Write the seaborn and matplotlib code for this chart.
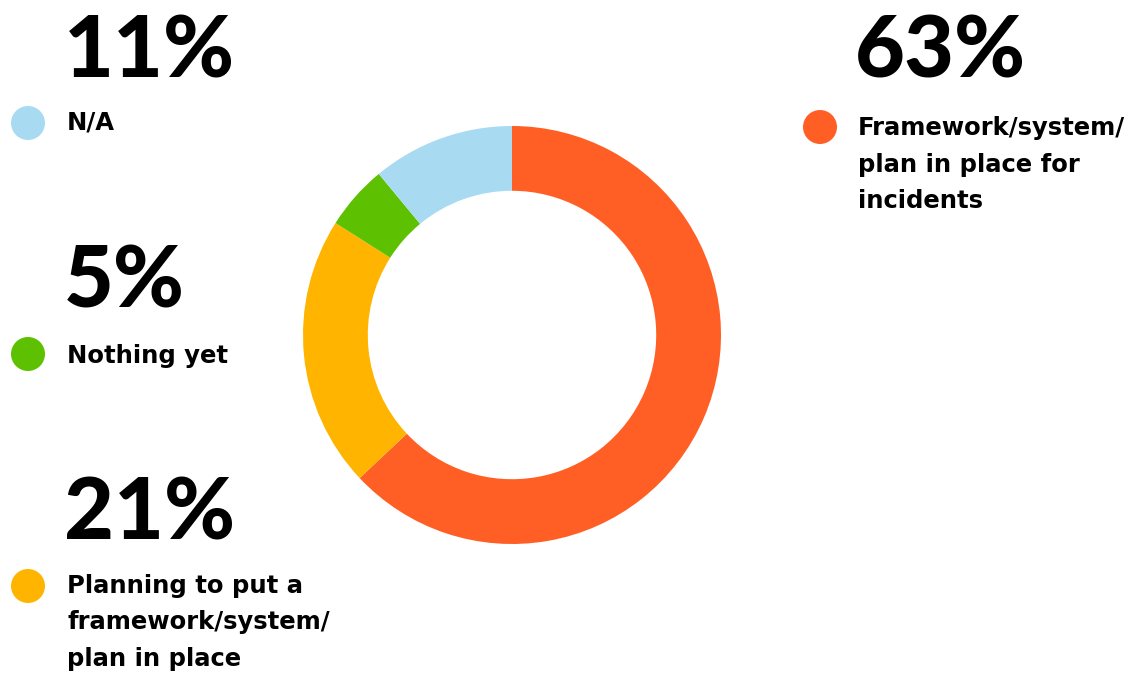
import matplotlib
matplotlib.use("Agg")
import matplotlib.pyplot as plt
from matplotlib import font_manager
import seaborn as sns

# Survey responses: incident management readiness
categories = [
    "Framework/system/\nplan in place for\nincidents",
    "Planning to put a\nframework/system/\nplan in place",
    "Nothing yet",
    "N/A",
]
values = [63, 21, 5, 11]
colors = ["#FF5F24", "#FFB400", "#5DC000", "#A8DBF2"]

sns.set_theme(style="white")
plt.rcParams["font.family"] = ["DejaVu Sans"]

# Heavy face for the big percentages: pick an upright Lato with the highest weight
lato = [f for f in font_manager.fontManager.ttflist
        if f.name == "Lato" and f.style == "normal" and f.stretch == "normal"]
if lato:
    best = max(lato, key=lambda f: (int(f.weight) if str(f.weight).isdigit() else 400))
    big_font = font_manager.FontProperties(fname=best.fname, size=62)
else:
    big_font = font_manager.FontProperties(family="DejaVu Sans", weight="bold", size=56)

W, H = 1148, 675
fig = plt.figure(figsize=(W / 100, H / 100), dpi=100)
fig.patch.set_facecolor("white")

# Donut, centred at (512, 335) px with an outer radius of ~209 px
cx, cy, r = 512, 335, 209
ax = fig.add_axes([(cx - r) / W, (H - cy - r) / H, 2 * r / W, 2 * r / H])
palette = sns.color_palette(colors)
ax.pie(values, colors=palette, startangle=90, counterclock=False, radius=1.0,
       wedgeprops=dict(width=0.31, edgecolor="none", linewidth=0))
ax.set_xlim(-1, 1)
ax.set_ylim(-1, 1)
ax.set_aspect("equal")
ax.axis("off")


def px(x, y):
    return x / W, 1 - y / H


# Legend blocks: big number baseline, dot centre, first label baseline
blocks = {
    3: dict(num=(64, 77), dot=(28, 123), lab=(67, 130)),
    2: dict(num=(64, 307), dot=(28, 354), lab=(67, 363)),
    1: dict(num=(64, 540), dot=(28, 586), lab=(67, 593)),
    0: dict(num=(855, 78), dot=(820, 127), lab=(858, 135)),
}
line_step = 36.5

for i, b in blocks.items():
    fig.text(*px(*b["num"]), f"{values[i]}%", fontproperties=big_font,
             color="black", ha="left", va="baseline")
    dx, dy = px(*b["dot"])
    fig.patches.append(matplotlib.patches.Ellipse(
        (dx, dy), 34 / W, 34 / H, transform=fig.transFigure,
        facecolor=colors[i], edgecolor="none"))
    lx, ly = b["lab"]
    for k, line in enumerate(categories[i].split("\n")):
        fig.text(*px(lx, ly + k * line_step), line, fontsize=17.5,
                 fontweight="bold", family=["DejaVu Sans"],
                 color="black", ha="left", va="baseline")

fig.savefig("out.png", dpi=100, facecolor="white")
